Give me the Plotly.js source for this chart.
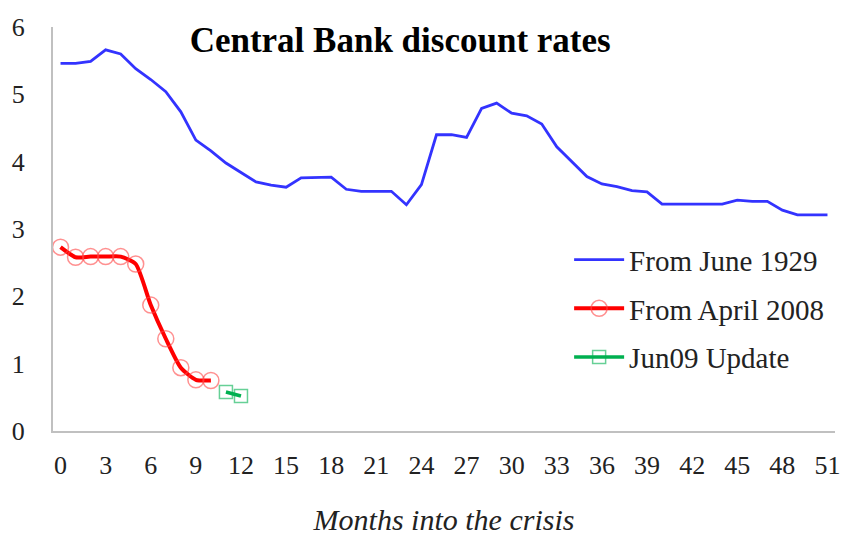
<!DOCTYPE html>
<html>
<head>
<meta charset="utf-8">
<script src="https://cdn.plot.ly/plotly-3.0.1.min.js"></script>
<style>html,body{margin:0;padding:0;background:#fff;}#chart{width:846px;height:536px;}</style>
</head>
<body>
<div id="chart"></div>
<script>
const months1929 = [0,1,2,3,4,5,6,7,8,9,10,11,12,13,14,15,16,17,18,19,20,21,22,23,24,25,26,27,28,29,30,31,32,33,34,35,36,37,38,39,40,41,42,43,44,45,46,47,48,49,50,51];
const rates1929 = [5.46,5.46,5.49,5.66,5.60,5.38,5.22,5.04,4.74,4.32,4.16,3.98,3.84,3.70,3.65,3.62,3.76,3.77,3.77,3.59,3.56,3.56,3.56,3.36,3.66,4.40,4.40,4.36,4.79,4.87,4.72,4.68,4.56,4.22,4.00,3.78,3.67,3.63,3.57,3.55,3.37,3.37,3.37,3.37,3.37,3.43,3.41,3.41,3.28,3.21,3.21,3.21];
const months2008 = [0,1,2,3,4,5,6,7,8,9,10];
const rates2008 = [2.73,2.58,2.59,2.59,2.59,2.48,1.87,1.37,0.94,0.76,0.75];
const monthsUpdate = [11,12];
const ratesUpdate = [0.58,0.52];
const xTicks = [0,3,6,9,12,15,18,21,24,27,30,33,36,39,42,45,48,51];

const serif = "'Liberation Serif','Times New Roman',serif";
const traces = [
  {x: months1929, y: rates1929, name: 'From June 1929', mode: 'lines', legendgroup:'a',
   line: {color: '#3333ff', width: 2.8}},
  {x: months2008, y: rates2008, name: 'From April 2008', mode: 'lines+markers', legendgroup:'b',
   line: {color: '#ff0000', width: 4, shape: 'spline', smoothing: 0.6},
   marker: {symbol: 'circle-open', size: 16, color: 'rgba(255,70,70,0.6)', line: {width: 1.5}}},
  {x: monthsUpdate, y: ratesUpdate, name: 'Jun09 Update', mode: 'lines+markers', legendgroup:'c',
   line: {color: '#00b050', width: 3.5},
   marker: {symbol: 'square-open', size: 13, color: 'rgba(0,176,80,0.6)', line: {width: 1.5}}}
];
const layout = {
  width: 846, height: 536,
  margin: {l: 53, r: 11, t: 27, b: 105},
  paper_bgcolor: '#fff', plot_bgcolor: '#fff',
  font: {family: serif, color: '#222', size: 26},
  title: {text: '<b>Central Bank discount rates</b>', font: {family: serif, size: 35, color: '#000'},
          x: 0.473, xanchor: 'center', y: 0.925, yanchor: 'middle'},
  xaxis: {range: [-0.5, 51.5], tickvals: xTicks, ticktext: xTicks.map(String),
          showgrid: false, zeroline: false, showline: true, linecolor: '#c0c0c0', linewidth: 2,
          ticks: '', ticklabelstandoff: 10, tickfont: {family: serif, size: 26, color: '#222'},
          title: {text: '<i>Months into the crisis</i>', font: {family: serif, size: 30, color: '#222'}, standoff: 31}},
  yaxis: {range: [0, 6], tickvals: [0,1,2,3,4,5,6], showgrid: false, zeroline: false,
          showline: true, linecolor: '#c0c0c0', linewidth: 2, ticks: '', ticklabelstandoff: 21,
          tickfont: {family: serif, size: 26, color: '#222'}},
  legend: {x: 0.66, y: 0.487, xanchor: 'left', yanchor: 'top', bgcolor: 'rgba(0,0,0,0)',
           font: {family: serif, size: 29, color: '#222'}, traceorder: 'grouped', tracegroupgap: 8,
           itemwidth: 50},
  showlegend: true
};
Plotly.newPlot('chart', traces, layout, {displayModeBar: false, staticPlot: true});
</script>
</body>
</html>
